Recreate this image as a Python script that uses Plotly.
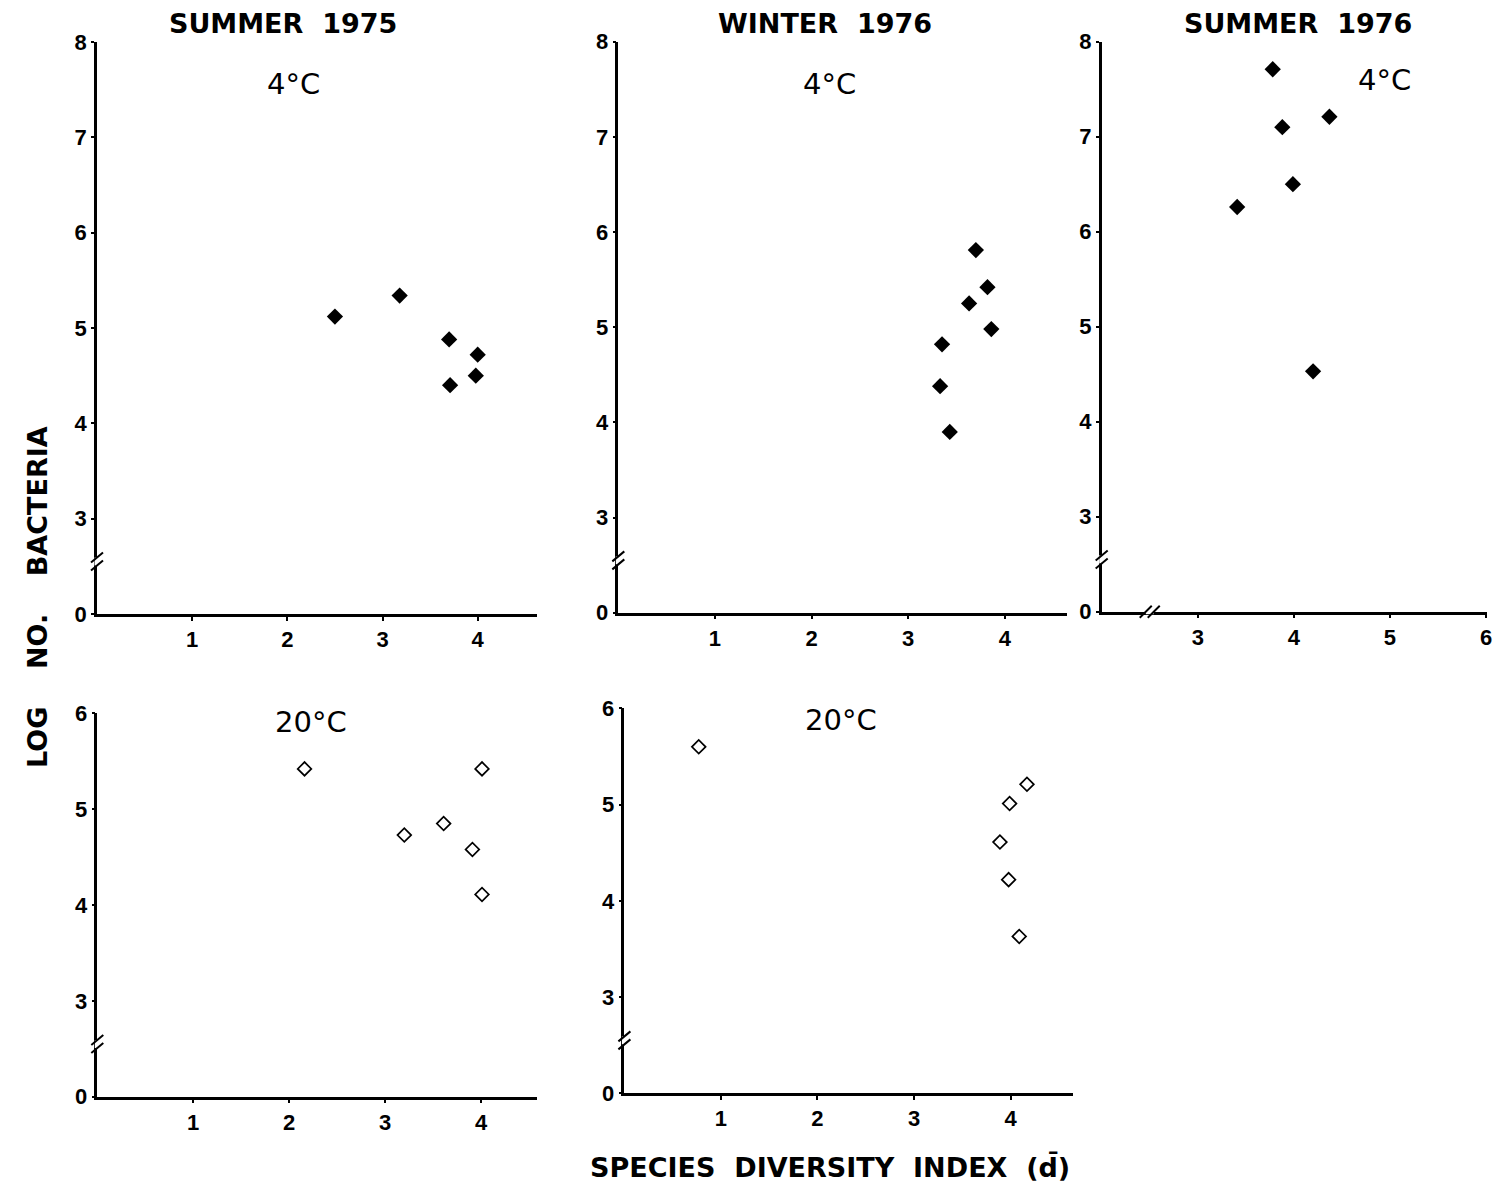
import plotly.graph_objects as go

W, H = 1497, 1187

# ---------------- data ----------------
# Summer 1975, 4°C
s75_4c_x = [2.50, 3.18, 3.70, 4.00, 3.98, 3.71]
s75_4c_y = [5.12, 5.34, 4.88, 4.72, 4.50, 4.40]
# Winter 1976, 4°C
w76_4c_x = [3.70, 3.82, 3.63, 3.86, 3.35, 3.33, 3.43]
w76_4c_y = [5.81, 5.42, 5.25, 4.98, 4.82, 4.38, 3.90]
# Summer 1976, 4°C
s76_4c_x = [3.78, 4.37, 3.88, 3.99, 3.41, 4.20]
s76_4c_y = [7.71, 7.21, 7.10, 6.50, 6.26, 4.53]
# Summer 1975, 20°C
s75_20c_x = [2.16, 4.01, 3.20, 3.61, 3.91, 4.01]
s75_20c_y = [5.42, 5.42, 4.73, 4.85, 4.58, 4.11]
# Winter 1976, 20°C
w76_20c_x = [0.77, 4.17, 3.99, 3.89, 3.98, 4.09]
w76_20c_y = [5.60, 5.21, 5.01, 4.61, 4.22, 3.63]

# tick labels (y axis broken: "0" is drawn one step below "3")
y_tickvals_top = [2, 3, 4, 5, 6, 7, 8]
y_ticktext_top = ["0", "3", "4", "5", "6", "7", "8"]
y_tickvals_bot = [2, 3, 4, 5, 6]
y_ticktext_bot = ["0", "3", "4", "5", "6"]
x_tickvals = [1, 2, 3, 4]
x_tickvals_s76 = [3, 4, 5, 6]

season_titles = ["SUMMER  1975", "WINTER  1976", "SUMMER  1976"]
temp_labels = ["4°C", "4°C", "4°C", "20°C", "20°C"]

# ---------------- layout geometry (window pixels) ----------------
panels = [
    dict(x=s75_4c_x, y=s75_4c_y, xpx=(97, 536.7), xr=[0, 4.62], ypx=(614, 42), yr=[2, 8],
         yt=(y_tickvals_top, y_ticktext_top), xt=x_tickvals, filled=True),
    dict(x=w76_4c_x, y=w76_4c_y, xpx=(618.3, 1066.7), xr=[0, 4.64], ypx=(612.7, 41.7), yr=[2, 8],
         yt=(y_tickvals_top, y_ticktext_top), xt=x_tickvals, filled=True),
    dict(x=s76_4c_x, y=s76_4c_y, xpx=(1101.7, 1486.5), xr=[2, 6.005], ypx=(611.7, 41.7), yr=[2, 8],
         yt=(y_tickvals_top, y_ticktext_top), xt=x_tickvals_s76, filled=True),
    dict(x=s75_20c_x, y=s75_20c_y, xpx=(97.3, 536.7), xr=[0, 4.58], ypx=(1096.7, 713.3), yr=[2, 6],
         yt=(y_tickvals_bot, y_ticktext_bot), xt=x_tickvals, filled=False),
    dict(x=w76_20c_x, y=w76_20c_y, xpx=(624.4, 1073.3), xr=[0, 4.65], ypx=(1093.3, 708.3), yr=[2, 6],
         yt=(y_tickvals_bot, y_ticktext_bot), xt=x_tickvals, filled=False),
]

fig = go.Figure()
layout = dict(
    template="none",
    width=W, height=H, margin=dict(l=0, r=0, t=0, b=0, autoexpand=False),
    paper_bgcolor="white", plot_bgcolor="white", showlegend=False,
)

tickfont = dict(family="Liberation Sans", size=22, color="black", weight="bold")
shapes = []

def px2paper_x(px):
    return px / W

def px2paper_y(py):
    return 1 - py / H

for i, p in enumerate(panels):
    n = "" if i == 0 else str(i + 1)
    xa, ya = "xaxis" + n, "yaxis" + n
    xr_, yr_ = "x" + n, "y" + n
    layout[xa] = dict(
        domain=[px2paper_x(p["xpx"][0]), px2paper_x(p["xpx"][1])], range=p["xr"], anchor=yr_,
        showgrid=False, zeroline=False, showline=True, linecolor="black", linewidth=2.5,
        ticks="outside", ticklen=4, tickwidth=2, tickcolor="black", automargin=False,
        tickvals=p["xt"], tickfont=tickfont, fixedrange=True,
    )
    layout[ya] = dict(
        domain=[px2paper_y(p["ypx"][0]), px2paper_y(p["ypx"][1])], range=p["yr"], anchor=xr_,
        showgrid=False, zeroline=False, showline=True, linecolor="black", linewidth=2.5,
        ticks="outside", ticklen=3, tickwidth=2, tickcolor="black", automargin=False,
        tickvals=p["yt"][0], ticktext=p["yt"][1], tickfont=tickfont, fixedrange=True,
    )
    if p["filled"]:
        marker = dict(symbol="diamond", size=12.5, color="black", line=dict(width=0))
    else:
        marker = dict(symbol="diamond-open", size=10.5, color="black", line=dict(width=1.7, color="black"))
    fig.add_trace(go.Scatter(x=p["x"], y=p["y"], mode="markers", marker=marker,
                             xaxis=xr_, yaxis=yr_, cliponaxis=False, hoverinfo="skip"))

    # y-axis break marks (at 2.55 on the broken scale)
    ax_px = p["xpx"][0]
    ybot, ytop = p["ypx"]
    scale = (ybot - ytop) / (p["yr"][1] - p["yr"][0])
    yb = ybot - (2.55 - p["yr"][0]) * scale
    shapes.append(dict(type="line", xref="paper", yref="paper",
                       x0=px2paper_x(ax_px), x1=px2paper_x(ax_px),
                       y0=px2paper_y(yb - 4), y1=px2paper_y(yb + 4),
                       line=dict(color="white", width=5)))
    for off in (-4, 4):
        shapes.append(dict(type="line", xref="paper", yref="paper",
                           x0=px2paper_x(ax_px - 6), y0=px2paper_y(yb + off + 5),
                           x1=px2paper_x(ax_px + 6), y1=px2paper_y(yb + off - 5),
                           line=dict(color="black", width=2)))

# x-axis break for Summer 1976 panel (at 2.5)
p = panels[2]
xscale = (p["xpx"][1] - p["xpx"][0]) / (p["xr"][1] - p["xr"][0])
xb = p["xpx"][0] + (2.5 - p["xr"][0]) * xscale
ay_px = p["ypx"][0]
shapes.append(dict(type="line", xref="paper", yref="paper",
                   x0=px2paper_x(xb - 4), x1=px2paper_x(xb + 4),
                   y0=px2paper_y(ay_px), y1=px2paper_y(ay_px),
                   line=dict(color="white", width=5)))
for off in (-4, 4):
    shapes.append(dict(type="line", xref="paper", yref="paper",
                       x0=px2paper_x(xb + off - 6), y0=px2paper_y(ay_px + 6),
                       x1=px2paper_x(xb + off + 6), y1=px2paper_y(ay_px - 6),
                       line=dict(color="black", width=2)))

layout["shapes"] = shapes

titlefont = dict(family="DejaVu Sans", size=27, color="black", weight="bold")
labelfont = dict(family="DejaVu Sans", size=29, color="black")
axtitlefont = dict(family="DejaVu Sans", size=27, color="black", weight="bold")
annotations = []
for t, cx in zip(season_titles, [283, 825, 1298]):
    annotations.append(dict(text=t, x=px2paper_x(cx), y=px2paper_y(23), xref="paper", yref="paper",
                            showarrow=False, xanchor="center", yanchor="middle", font=titlefont))
for t, (cx, cy) in zip(temp_labels, [(293, 84), (829, 84), (1384, 80), (311, 722), (841, 720)]):
    annotations.append(dict(text=t, x=px2paper_x(cx), y=px2paper_y(cy), xref="paper", yref="paper",
                            showarrow=False, xanchor="center", yanchor="middle", font=labelfont))
annotations.append(dict(text="LOG    NO.    BACTERIA", x=px2paper_x(38), y=px2paper_y(597),
                        xref="paper", yref="paper", showarrow=False, textangle=-90,
                        xanchor="center", yanchor="middle", font=axtitlefont))
annotations.append(dict(text="SPECIES  DIVERSITY  INDEX  (d\u0304)", x=px2paper_x(830), y=px2paper_y(1167),
                        xref="paper", yref="paper", showarrow=False,
                        xanchor="center", yanchor="middle", font=axtitlefont))
layout["annotations"] = annotations

fig.update_layout(**layout)
fig.write_html(
    "out.html",
    config={"displayModeBar": False},
    post_script="document.body.style.margin='0';document.body.style.overflow='hidden';",
)
